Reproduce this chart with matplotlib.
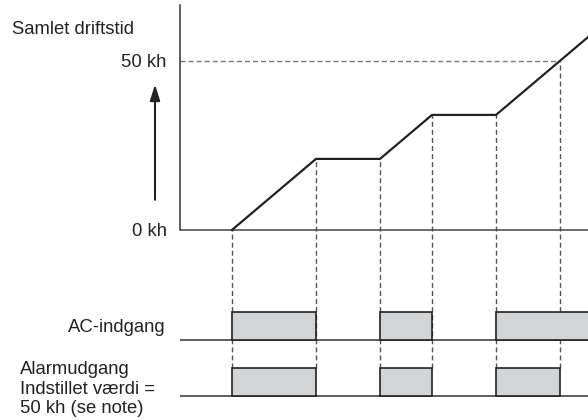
import numpy as np
import matplotlib
matplotlib.use('Agg')
import matplotlib.pyplot as plt
from matplotlib.patches import Rectangle

plt.rcParams['font.family'] = ['Liberation Sans', 'DejaVu Sans']

# time axis in kh, cumulative running time in kh
curve_t = [13, 34, 50, 63, 79, 102]
curve_kh = [0, 21, 21, 34, 34, 57]
set_value = 50
alarm_t = 95

ac_on = [13, 50, 79]
ac_off = [34, 63, 106]      # last period still running past the edge
alarm_on = [13, 50, 79]
alarm_off = [34, 63, 95]

ytick_vals = [0, 50]
ytick_labels = ['0 kh', '50 kh']

T_MAX = 102
Y_TOP = 66.5
Y_BOTTOM = -56.2
PX = 415 / (Y_TOP - Y_BOTTOM)   # pixels per kh on the y axis

ac_base = -110 / PX
alarm_base = -166 / PX
row_h = 28 / PX

TEXT = '#222222'
LINE = '#222222'
DASH = '#555555'
FILL = '#d3d4d6'
FS = 13.3

fig = plt.figure(figsize=(5.88, 4.2), dpi=100)
ax = fig.add_axes([180 / 588, 0, 408 / 588, 415 / 420])
ax.set_xlim(0, T_MAX)
ax.set_ylim(Y_BOTTOM, Y_TOP)

for s in ['top', 'right', 'bottom']:
    ax.spines[s].set_visible(False)
ax.spines['left'].set_bounds(0, Y_TOP)
ax.spines['left'].set_color('#333333')
ax.spines['left'].set_linewidth(1.1)
ax.set_xticks([])
ax.set_yticks(ytick_vals, ytick_labels)
ax.tick_params(axis='y', length=0, pad=9.5, labelsize=FS, labelcolor=TEXT)

# baselines
ax.axhline(0, color='#444444', lw=1.1, zorder=2)
ax.axhline(ac_base, color='#333333', lw=1.1, zorder=2)
ax.axhline(alarm_base, color='#333333', lw=1.1, zorder=2)

# set value line
ax.plot([0, alarm_t], [set_value, set_value], color='#777777', lw=1.0,
        linestyle=(0, (3.6, 2.2)), zorder=1)

# dashed event lines down to the alarm row
events = sorted(set(ac_on + ac_off[:-1] + alarm_off))
tops = np.interp(events, curve_t, curve_kh)
ax.vlines(events, alarm_base + row_h, tops, colors=DASH, lw=1.0,
          linestyles=[(0, (3.6, 2.2))], zorder=1)

# cumulative running time
ax.plot(curve_t, curve_kh, color=LINE, lw=1.6, solid_joinstyle='miter', zorder=3)

# signal rows
for t0, t1 in zip(ac_on, ac_off):
    ax.add_patch(Rectangle((t0, ac_base), t1 - t0, row_h, facecolor=FILL,
                           edgecolor=LINE, lw=1.2, zorder=3))
for t0, t1 in zip(alarm_on, alarm_off):
    ax.add_patch(Rectangle((t0, alarm_base), t1 - t0, row_h,
                           facecolor=FILL, edgecolor=LINE, lw=1.2, zorder=3))

# upward arrow next to the axis
ax.annotate('', xy=(-6.25, 43), xytext=(-6.25, 8.9),
            arrowprops=dict(arrowstyle='-|>,head_length=0.95,head_width=0.3',
                            color=LINE, lw=1.5, mutation_scale=10, shrinkA=0, shrinkB=0),
            annotation_clip=False)

fig.text(12 / 588, 1 - 29.5 / 420, 'Samlet driftstid', fontsize=FS, color=TEXT,
         ha='left', va='center')
fig.text(166 / 588, 1 - 327 / 420, 'AC-indgang', fontsize=FS, color=TEXT,
         ha='right', va='center')
fig.text(20 / 588, 1 - 389 / 420, 'Alarmudgang\nIndstillet værdi =\n50 kh (se note)',
         fontsize=FS, color=TEXT, ha='left', va='center', linespacing=1.23)

fig.savefig('out.png', dpi=100)
